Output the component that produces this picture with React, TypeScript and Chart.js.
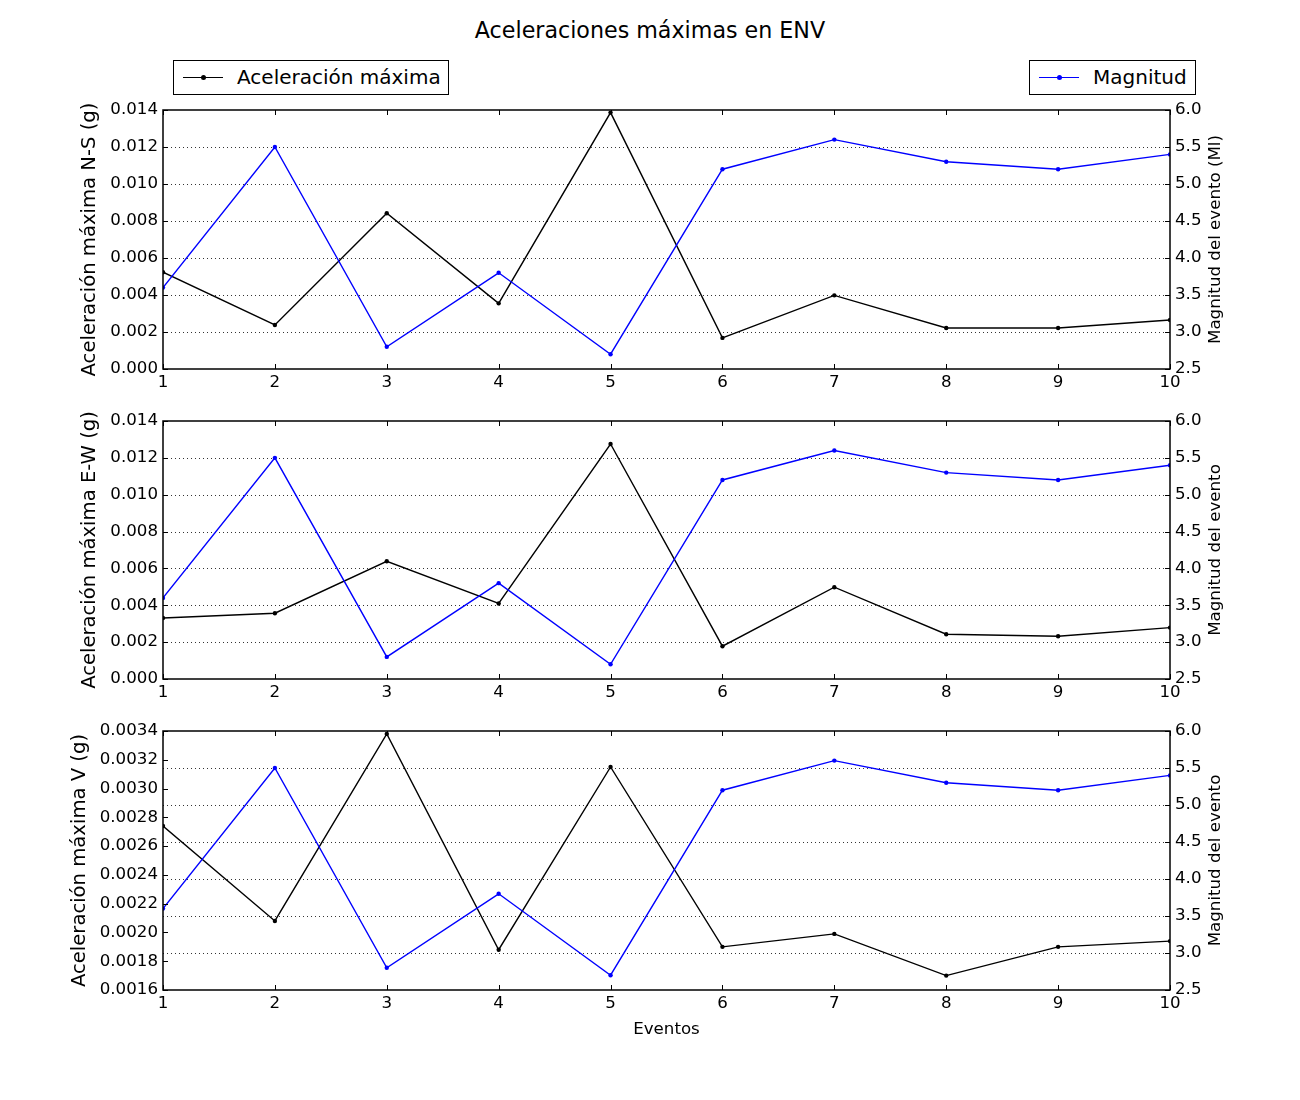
import React, { useEffect, useRef } from "react";
import { Chart, registerables } from "chart.js";

Chart.register(...registerables);

// ---------- data ----------
const events = [1, 2, 3, 4, 5, 6, 7, 8, 9, 10];
const magnitude = [3.6, 5.5, 2.8, 3.8, 2.7, 5.2, 5.6, 5.3, 5.2, 5.4];
const accelNS = [0.00523, 0.00238, 0.00842, 0.00355, 0.01386, 0.00168, 0.00398, 0.00222, 0.00222, 0.00265];
const accelEW = [0.00331, 0.00357, 0.00639, 0.0041, 0.01275, 0.00178, 0.00498, 0.00243, 0.00232, 0.00279];
const accelV = [0.00274, 0.00208, 0.00338, 0.00188, 0.00315, 0.0019, 0.00199, 0.0017, 0.0019, 0.00194];

const ticksNSEW = [0, 0.002, 0.004, 0.006, 0.008, 0.01, 0.012, 0.014];
const ticksV = [0.0016, 0.0018, 0.002, 0.0022, 0.0024, 0.0026, 0.0028, 0.003, 0.0032, 0.0034];
const ticksMag = [2.5, 3.0, 3.5, 4.0, 4.5, 5.0, 5.5, 6.0];

const titleText = "Aceleraciones máximas en ENV";
const accelLabel = "Aceleración máxima";
const magLabel = "Magnitud";
const xLabel = "Eventos";

const FONT = "'DejaVu Sans', 'Liberation Sans', sans-serif";
const TICK_SIZE = 16.67;
const LABEL_SIZE = 19.6;
const LEGEND_SIZE = 20;

interface PanelSpec {
  values: number[];
  yTicks: number[];
  decimals: number;
  yLabel: string;
  rightLabel: string;
  top: number;
  height: number;
  padTop: number;
  xHeight: number;
  yLabelPad: number;
  showX: boolean;
}

const panels: PanelSpec[] = [
  { values: accelNS, yTicks: ticksNSEW, decimals: 3, yLabel: "Aceleración máxima N-S (g)", rightLabel: "Magnitud del evento (Ml)", top: 80, height: 320, padTop: 30, xHeight: 31, yLabelPad: 78.2, showX: false },
  { values: accelEW, yTicks: ticksNSEW, decimals: 3, yLabel: "Aceleración máxima E-W (g)", rightLabel: "Magnitud del evento", top: 400, height: 310, padTop: 21, xHeight: 31, yLabelPad: 78.2, showX: false },
  { values: accelV, yTicks: ticksV, decimals: 4, yLabel: "Aceleración máxima V (g)", rightLabel: "Magnitud del evento", top: 710, height: 340, padTop: 21, xHeight: 60, yLabelPad: 68.2, showX: true },
];

const framePlugin = {
  id: "mplFrame",
  beforeDatasetsDraw(chart: any) {
    const { ctx, chartArea: a, scales } = chart;
    const y1 = scales.y1;
    ctx.save();
    ctx.strokeStyle = "#000";
    ctx.lineWidth = 0.8;
    ctx.setLineDash([1, 3]);
    y1.ticks.forEach((t: any) => {
      if (t.value <= y1.min || t.value >= y1.max) return;
      const py = Math.round(y1.getPixelForValue(t.value)) + 0.5;
      ctx.beginPath();
      ctx.moveTo(a.left, py);
      ctx.lineTo(a.right, py);
      ctx.stroke();
    });
    ctx.restore();
  },
  afterDatasetsDraw(chart: any, _args: any, opts: any) {
    const { ctx, chartArea: a, scales } = chart;
    const TL = 5;
    ctx.save();
    ctx.strokeStyle = "#000";
    ctx.lineWidth = 1;
    ctx.setLineDash([]);
    ctx.beginPath();
    scales.x.ticks.forEach((t: any) => {
      const px = Math.round(scales.x.getPixelForValue(t.value)) + 0.5;
      ctx.moveTo(px, a.top);
      ctx.lineTo(px, a.top + TL);
      ctx.moveTo(px, a.bottom);
      ctx.lineTo(px, a.bottom - TL);
    });
    scales.y.ticks.forEach((t: any) => {
      const py = Math.round(scales.y.getPixelForValue(t.value)) + 0.5;
      ctx.moveTo(a.left, py);
      ctx.lineTo(a.left + TL, py);
    });
    scales.y1.ticks.forEach((t: any) => {
      const py = Math.round(scales.y1.getPixelForValue(t.value)) + 0.5;
      ctx.moveTo(a.right, py);
      ctx.lineTo(a.right - TL, py);
    });
    ctx.stroke();
    ctx.lineWidth = 1.5;
    ctx.strokeRect(a.left, a.top, a.right - a.left, a.bottom - a.top);
    // right axis label (reads bottom to top)
    ctx.translate(a.right + 46, (a.top + a.bottom) / 2);
    ctx.rotate(-Math.PI / 2);
    ctx.fillStyle = "#000";
    ctx.textAlign = "center";
    ctx.textBaseline = "middle";
    ctx.font = `${TICK_SIZE}px ${FONT}`;
    ctx.fillText(opts.rightLabel || "", 0, 0);
    ctx.restore();
  },
};

function buildConfig(p: PanelSpec): any {
  const tickFont = { family: FONT, size: TICK_SIZE };
  const noGrid = { display: false, drawTicks: false, drawOnChartArea: false };
  return {
    type: "line",
    data: {
      datasets: [
        {
          label: magLabel,
          data: events.map((x, i) => ({ x, y: magnitude[i] })),
          yAxisID: "y1",
          borderColor: "#0000ff",
          backgroundColor: "#0000ff",
          borderWidth: 1.4,
          pointRadius: 2.2,
          pointBorderWidth: 0,
          tension: 0,
          order: 0,
        },
        {
          label: accelLabel,
          data: events.map((x, i) => ({ x, y: p.values[i] })),
          yAxisID: "y",
          borderColor: "#000000",
          backgroundColor: "#000000",
          borderWidth: 1.4,
          pointRadius: 2.2,
          pointBorderWidth: 0,
          tension: 0,
          order: 1,
        },
      ],
    },
    options: {
      responsive: false,
      animation: false,
      events: [],
      layout: { padding: { top: p.padTop, left: 0, right: 0, bottom: 0 } },
      plugins: {
        legend: { display: false },
        tooltip: { enabled: false },
        title: { display: false },
        mplFrame: { rightLabel: p.rightLabel },
      },
      scales: {
        x: {
          type: "linear",
          min: 1,
          max: 10,
          afterBuildTicks: (s: any) => {
            s.ticks = events.map((v) => ({ value: v }));
          },
          afterFit: (s: any) => {
            s.height = p.xHeight;
          },
          grid: noGrid,
          border: { display: false },
          ticks: {
            padding: 4,
            color: "#000",
            font: tickFont,
            maxRotation: 0,
            autoSkip: false,
            callback: (v: any) => String(v),
          },
          title: p.showX
            ? { display: true, text: xLabel, color: "#000", font: { family: FONT, size: TICK_SIZE }, padding: { top: 0, bottom: 10 } }
            : { display: false },
        },
        y: {
          type: "linear",
          position: "left",
          min: p.yTicks[0],
          max: p.yTicks[p.yTicks.length - 1],
          afterBuildTicks: (s: any) => {
            s.ticks = p.yTicks.map((v) => ({ value: v }));
          },
          afterFit: (s: any) => {
            s.width = 163;
          },
          grid: noGrid,
          border: { display: false },
          ticks: {
            padding: 5,
            color: "#000",
            font: tickFont,
            autoSkip: false,
            callback: (v: any) => Number(v).toFixed(p.decimals),
          },
          title: {
            display: true,
            text: p.yLabel,
            color: "#000",
            font: { family: FONT, size: LABEL_SIZE },
            padding: { top: p.yLabelPad, bottom: 0 },
          },
        },
        y1: {
          type: "linear",
          position: "right",
          min: ticksMag[0],
          max: ticksMag[ticksMag.length - 1],
          afterBuildTicks: (s: any) => {
            s.ticks = ticksMag.map((v) => ({ value: v }));
          },
          afterFit: (s: any) => {
            s.width = 130;
          },
          grid: noGrid,
          border: { display: false },
          ticks: {
            padding: 5,
            color: "#000",
            font: tickFont,
            autoSkip: false,
            callback: (v: any) => Number(v).toFixed(1),
          },
        },
      },
    },
    plugins: [framePlugin],
  };
}

function LegendBox(props: { left: number; width: number; color: string; label: string }) {
  return (
    <div
      style={{
        position: "absolute",
        left: props.left,
        top: 60,
        width: props.width,
        height: 35,
        boxSizing: "border-box",
        border: "1px solid #000",
        background: "#fff",
      }}
    >
      <div style={{ position: "absolute", left: 9, top: 15.5, width: 40, height: 0, borderTop: `1.4px solid ${props.color}` }} />
      <div style={{ position: "absolute", left: 26.5, top: 13.5, width: 5, height: 5, borderRadius: "50%", background: props.color }} />
      <div
        style={{
          position: "absolute",
          left: 63,
          top: 3.8,
          fontFamily: FONT,
          fontSize: LEGEND_SIZE,
          lineHeight: "normal",
          color: "#000",
          whiteSpace: "nowrap",
        }}
      >
        {props.label}
      </div>
    </div>
  );
}

export default function App() {
  const refs = [useRef<HTMLCanvasElement>(null), useRef<HTMLCanvasElement>(null), useRef<HTMLCanvasElement>(null)];

  useEffect(() => {
    const charts = panels.map((p, i) => new Chart(refs[i].current as HTMLCanvasElement, buildConfig(p)));
    return () => charts.forEach((c) => c.destroy());
  }, []);

  return (
    <div style={{ position: "absolute", left: 0, top: 0, width: 1300, height: 1100, background: "#fff", overflow: "hidden" }}>
      <div
        style={{
          position: "absolute",
          left: 0,
          top: 17.4,
          width: 1300,
          textAlign: "center",
          fontFamily: FONT,
          fontSize: 22.2,
          lineHeight: "normal",
          color: "#000",
        }}
      >
        {titleText}
      </div>
      <LegendBox left={173} width={276} color="#000000" label={accelLabel} />
      <LegendBox left={1029} width={167} color="#0000ff" label={magLabel} />
      {panels.map((p, i) => (
        <canvas
          key={i}
          ref={refs[i]}
          width={1300}
          height={p.height}
          style={{ position: "absolute", left: 0, top: p.top, width: 1300, height: p.height }}
        />
      ))}
    </div>
  );
}
